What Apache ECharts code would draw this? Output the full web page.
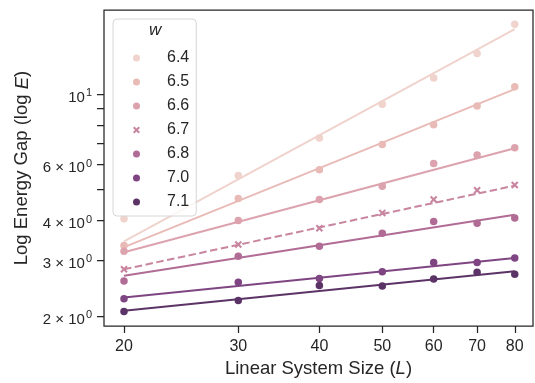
<!DOCTYPE html>
<html>
<head>
<meta charset="utf-8">
<script src="https://cdn.jsdelivr.net/npm/echarts@6/dist/echarts.min.js"></script>
<style>
html,body{margin:0;padding:0;background:#fff;}
#chart{width:535px;height:383px;}
</style>
</head>
<body>
<div id="chart"></div>
<script>
// ---- data ----
const L = [20, 30, 40, 50, 60, 70, 80];
const wLabels = ['6.4', '6.5', '6.6', '6.7', '6.8', '7.0', '7.1'];
const E64 = [4.05, 5.54, 7.27, 9.29, 11.23, 13.41, 16.58];
const E65 = [3.34, 4.69, 5.78, 6.94, 8.00, 9.16, 10.54];
const E66 = [3.20, 4.00, 4.66, 5.13, 6.04, 6.43, 6.78];
const E67 = [2.81, 3.36, 3.78, 4.22, 4.66, 4.98, 5.17];
const E68 = [2.58, 3.09, 3.32, 3.65, 3.97, 3.92, 4.07];
const E70 = [2.27, 2.56, 2.63, 2.76, 2.95, 2.95, 3.05];
const E71 = [2.07, 2.24, 2.50, 2.49, 2.62, 2.75, 2.71];
// power-law fit lines, value at L=20 and at L=80
const fitL = [20, 80];
const fit64 = [3.44, 16.00];
const fit65 = [3.30, 10.36];
const fit66 = [3.18, 6.75];
const fit67 = [2.81, 5.15];
const fit68 = [2.68, 4.17];
const fit70 = [2.29, 3.05];
const fit71 = [2.08, 2.77];
// axis ticks
const xTicks = [20, 30, 40, 50, 60, 70, 80];
const yTicks = [2, 3, 4, 5, 6, 7, 8, 9, 10];
const yLabels = [2, 3, 4, 6, 10];

const values = [E64, E65, E66, E67, E68, E70, E71];
const fits = [fit64, fit65, fit66, fit67, fit68, fit70, fit71];
const colors = ['#efd3cc', '#e8bbb7', '#dca2ad', '#c8859f', '#b16c95', '#7e4582', '#5c3366'];
const xPath = 'path://M2,0 L5,3 L8,0 L10,2 L7,5 L10,8 L8,10 L5,7 L2,10 L0,8 L3,5 L0,2 Z';
const txt = '#262626';

const series = [];
wLabels.forEach((w, i) => {
  const isX = w === '6.7';
  series.push({
    name: w + ' fit', type: 'line', z: 2, silent: true,
    symbol: 'none',
    data: fitL.map((x, j) => [x, fits[i][j]]),
    lineStyle: { color: colors[i], width: 2, type: isX ? [7.5, 3.5] : 'solid' },
    itemStyle: { color: colors[i] }
  });
  series.push({
    name: w, type: 'scatter', z: 3, silent: true,
    symbol: isX ? xPath : 'circle',
    symbolSize: 7.5,
    data: L.map((x, j) => [x, values[i][j]]),
    itemStyle: { color: colors[i], opacity: 1 }
  });
});

const chart = echarts.init(document.getElementById('chart'), null, { renderer: 'canvas' });
chart.setOption({
  animation: false,
  backgroundColor: '#fff',
  grid: { left: 104, right: 2, top: 10, bottom: 53, show: true, borderColor: txt, borderWidth: 1.25, backgroundColor: 'transparent' },
  xAxis: {
    type: 'log', logBase: 10, min: 18.63, max: 85.35,
    name: 'Linear System Size ({i|L})', nameLocation: 'middle', nameGap: 27,
    nameTextStyle: { fontSize: 18.5, color: txt, fontFamily: 'Liberation Sans',
      rich: { i: { fontSize: 18.5, fontStyle: 'italic', color: txt, fontFamily: 'Liberation Sans' } } },
    axisLine: { show: false },
    axisTick: { show: true, length: 7, inside: false, lineStyle: { color: txt, width: 1.25 }, customValues: xTicks },
    axisLabel: { show: true, margin: 12, fontSize: 16, color: txt, fontFamily: 'Liberation Sans', customValues: xTicks,
      formatter: v => String(Math.round(v)) },
    splitLine: { show: false }, minorTick: { show: false }
  },
  yAxis: {
    type: 'log', logBase: 10, min: 1.862, max: 18.37,
    name: 'Log Energy Gap (log {i|E})', nameLocation: 'middle', nameGap: 64,
    nameTextStyle: { fontSize: 18.5, color: txt, fontFamily: 'Liberation Sans',
      rich: { i: { fontSize: 18.5, fontStyle: 'italic', color: txt, fontFamily: 'Liberation Sans' } } },
    axisLine: { show: false },
    axisTick: { show: true, length: 7, inside: false, lineStyle: { color: txt, width: 1.25 }, customValues: yTicks },
    axisLabel: { show: true, margin: 12, color: txt, fontFamily: 'Liberation Sans', customValues: yLabels,
      formatter: v => {
        const r = Math.round(v * 1000) / 1000;
        if (r === 10) return '{b|10}{s|1}';
        return '{b|' + r + ' \u00d7 10}{s|0}';
      },
      rich: {
        b: { fontSize: 15, lineHeight: 15, padding: [7, 0, 0, 0], color: txt, fontFamily: 'Liberation Sans' },
        s: { fontSize: 11, lineHeight: 11, padding: [1, 0, 0, 1], verticalAlign: 'top', color: txt, fontFamily: 'Liberation Sans' }
      } },
    splitLine: { show: false }, minorTick: { show: false }
  },
  legend: {
    orient: 'vertical', left: 113, top: 19, padding: [30, 7, 5, 20],
    itemWidth: 7, itemHeight: 7, itemGap: 6, selectedMode: false,
    backgroundColor: 'rgba(255,255,255,0.8)', borderColor: '#d6d6d6', borderWidth: 1, borderRadius: 4,
    formatter: name => '{a|' + name + '}',
    textStyle: { fontSize: 16, color: txt, lineHeight: 18, fontFamily: 'Liberation Sans',
      rich: { a: { fontSize: 16, lineHeight: 18, padding: [0, 0, 0, 22], color: txt, fontFamily: 'Liberation Sans' } } },
    data: wLabels.map(w => ({ name: w, icon: w === '6.7' ? xPath : 'circle' }))
  },
  graphic: [{
    type: 'text', left: 149, top: 22, z: 100,
    style: { text: 'w', font: 'italic 17px "Liberation Sans"', fill: txt }
  }],
  series: series
});
</script>
</body>
</html>
